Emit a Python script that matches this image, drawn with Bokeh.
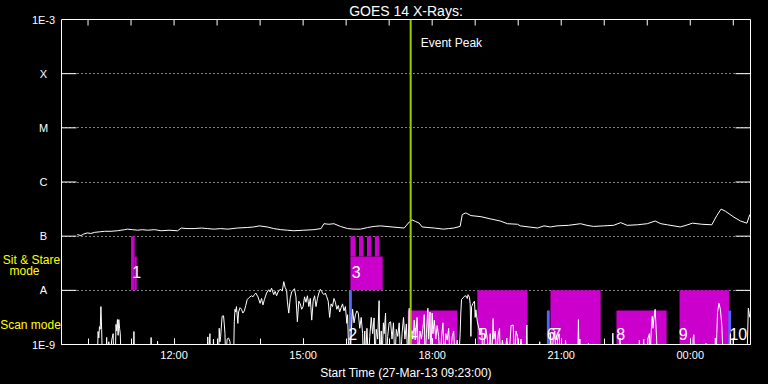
from bokeh.plotting import figure
from bokeh.models import Range1d, FixedTicker, Span, Label
from bokeh.layouts import row
from bokeh.core.properties import value
from bokeh.embed import file_html
from bokeh.resources import INLINE

START = "09:23"
FONT = "Liberation Sans"

def to_min(s):
    h, m = map(int, s.split(":"))
    sh, sm = map(int, START.split(":"))
    t = h * 60 + m - (sh * 60 + sm)
    if t < 0:
        t += 24 * 60
    return t

# ---- axis data ----
hour_ticks = ["10:00", "11:00", "12:00", "13:00", "14:00", "15:00", "16:00", "17:00",
              "18:00", "19:00", "20:00", "21:00", "22:00", "23:00", "00:00", "01:00"]
labeled_ticks = ["12:00", "15:00", "18:00", "21:00", "00:00"]
level_exp = [-9, -8, -7, -6, -5, -4, -3]
level_labels = ["1E-9", "A", "B", "C", "M", "X", "1E-3"]
grid_exp = [-8, -7, -6, -5, -4]

# mode captions (text, log10 flux position)
mode_text = ["Sit & Stare", "mode", "Scan mode"]
mode_exp = [-7.431, -7.652, -8.631]

# ---- GOES long channel : (minutes after start, log10 flux) ----
upper_pairs = [
    (22, -6.97), (27, -6.99), (31, -6.96), (36, -6.94), (41, -6.95), (46, -6.93), (53, -6.92),
    (60, -6.91), (69, -6.91), (78, -6.90), (88, -6.88), (92, -6.87), (99, -6.88), (106, -6.89),
    (113, -6.88), (120, -6.89), (130, -6.88), (139, -6.90), (150, -6.89), (162, -6.90),
    (167, -6.85), (175, -6.86), (185, -6.86), (195, -6.85), (204, -6.86), (213, -6.87),
    (222, -6.86), (232, -6.87), (245, -6.85), (259, -6.84), (268, -6.83), (276, -6.81),
    (287, -6.83), (296, -6.86), (306, -6.88), (315, -6.89), (324, -6.90), (338, -6.89),
    (352, -6.88), (362, -6.86), (366, -6.77), (373, -6.78), (380, -6.77), (389, -6.82),
    (399, -6.86), (408, -6.87), (417, -6.87), (427, -6.84), (436, -6.82), (445, -6.81),
    (461, -6.83), (478, -6.85), (485, -6.74), (489, -6.70), (494, -6.73), (499, -6.76),
    (503, -6.83), (511, -6.84), (520, -6.85), (533, -6.87), (540, -6.86), (547, -6.85),
    (556, -6.82), (559, -6.60), (564, -6.57), (571, -6.62), (578, -6.63), (585, -6.64),
    (598, -6.68), (612, -6.72), (622, -6.77), (636, -6.78), (640, -6.81), (652, -6.83),
    (664, -6.85), (673, -6.81), (682, -6.83), (691, -6.81), (707, -6.80), (724, -6.77),
    (733, -6.80), (742, -6.82), (756, -6.81), (770, -6.80), (780, -6.75), (789, -6.80),
    (803, -6.79), (817, -6.77), (828, -6.72), (836, -6.77), (845, -6.79), (863, -6.83),
    (871, -6.80), (880, -6.76), (893, -6.78), (907, -6.79), (914, -6.62), (920, -6.50),
    (926, -6.54), (938, -6.65), (947, -6.72), (956, -6.76), (960, -6.60),
]

# ---- GOES short channel (log10 flux); -9.3 = below the axis floor ----
lower_pairs = [
    (0, -9.3),
    (50, -9.3), (51, -8.76), (52, -8.88), (53, -8.67), (54, -8.72), (55, -8.30), (56, -8.72), (57, -9.3),
    (62, -9.3), (63, -8.87), (64, -9.3),
    (66, -8.95), (68, -9.3), (70, -8.92), (72, -8.80), (73, -9.3),
    (75, -9.3), (76, -8.63), (77, -8.75), (78, -8.54), (79, -8.83), (80, -8.54), (81, -8.70), (82, -8.80), (83, -9.3),
    (100, -9.3), (101, -8.76), (102, -9.3),
    (124, -9.3), (125, -8.87), (126, -9.3),
    (133, -9.3), (134, -8.94), (135, -9.3),
    (203, -9.3), (204, -8.86), (205, -9.3), (207, -8.80), (208, -9.3),
    (211, -9.3), (212, -8.90), (213, -9.3),
    (219, -9.3), (220, -8.70), (221, -8.95), (222, -8.85), (224, -8.48), (226, -8.47), (227, -8.62),
    (228, -8.80), (229, -9.3), (231, -8.90), (233, -8.88), (235, -8.95), (237, -9.3),
    (240, -9.3), (241, -8.58), (242, -8.35), (243, -8.40), (244, -8.30), (245, -8.45), (246, -8.61),
    (247, -8.40), (249, -8.32), (251, -8.35), (253, -8.42), (255, -8.38), (257, -8.28), (259, -8.17),
    (262, -8.13), (265, -8.10), (267, -8.12), (269, -8.08), (271, -8.05), (274, -8.12), (277, -8.24),
    (279, -8.15), (281, -8.27), (283, -8.17), (286, -8.05), (289, -7.99), (291, -8.03), (293, -7.96),
    (296, -8.08), (298, -8.02), (300, -8.10), (302, -8.03), (305, -7.98), (308, -8.01), (310, -7.84),
    (312, -7.95), (314, -8.00), (315, -8.20), (317, -8.42), (319, -8.15), (321, -8.03), (323, -8.00),
    (325, -7.97), (327, -8.12), (329, -8.58), (331, -8.20), (333, -8.25), (335, -8.35), (337, -8.30),
    (339, -8.12), (341, -8.22), (343, -8.10), (345, -8.30), (347, -8.15), (349, -8.55), (351, -8.20),
    (353, -8.10), (355, -8.30), (357, -8.15), (359, -8.05), (361, -7.98), (363, -8.02), (364, -8.05),
    (366, -8.08), (368, -8.05), (370, -8.12), (372, -8.20), (374, -8.50), (376, -8.25), (378, -8.30),
    (380, -8.15), (382, -8.22), (384, -8.35), (386, -8.28), (388, -8.40), (390, -8.32), (392, -8.25),
    (394, -8.38), (396, -8.30), (398, -8.61), (399, -8.45), (401, -9.3),
    (404, -8.80), (406, -8.35), (408, -8.60), (410, -8.45), (412, -8.38), (414, -8.42), (416, -8.70),
    (418, -8.50), (420, -8.80), (421, -9.3), (423, -8.75), (424, -9.3), (426, -8.70), (428, -9.3),
    (430, -8.85), (432, -8.50), (434, -8.80), (436, -8.51), (437, -9.3), (439, -8.72), (441, -8.90),
    (443, -8.19), (444, -9.3), (446, -8.75), (447, -9.3), (449, -8.60), (450, -8.80), (452, -8.42),
    (453, -9.3), (455, -8.85), (457, -8.60), (459, -8.58), (461, -8.90), (463, -8.60), (465, -9.3),
    (467, -8.72), (469, -8.85), (471, -8.60), (473, -9.3), (475, -8.80), (477, -8.50), (479, -8.90),
    (481, -8.62), (483, -9.3), (485, -8.33), (486, -9.3), (488, -8.75), (490, -8.90), (492, -8.55),
    (494, -8.85), (496, -8.50), (498, -9.3), (500, -8.75), (502, -8.90), (504, -8.70), (506, -8.45),
    (507, -9.3), (509, -8.80), (511, -8.33), (512, -8.90), (514, -8.40), (515, -9.3), (517, -8.42),
    (518, -8.80), (520, -8.55), (522, -8.90), (524, -8.65), (526, -8.85), (528, -9.3), (530, -8.88),
    (532, -8.60), (534, -9.3), (536, -8.80), (538, -8.92), (540, -8.70), (542, -9.3), (545, -8.85),
    (547, -8.75), (549, -9.3), (552, -8.92), (554, -9.3),
    (556, -8.80), (557, -8.40), (558, -8.17), (560, -8.14), (562, -8.11), (564, -8.10), (566, -8.15),
    (567, -8.08), (568, -8.10), (569, -8.13), (570, -8.25), (571, -8.85), (572, -8.30), (574, -8.24),
    (576, -8.20), (577, -8.50), (578, -8.36), (580, -8.58), (582, -8.70), (584, -8.80), (586, -8.70),
    (588, -9.3), (590, -8.85), (592, -8.72), (594, -8.90), (596, -9.3), (598, -8.80), (600, -9.3),
    (602, -8.52), (603, -8.90), (605, -8.75), (607, -9.3), (609, -8.82), (611, -8.70), (612, -9.3),
    (615, -8.92), (618, -9.3), (621, -8.88), (624, -9.3), (627, -8.65), (630, -8.64), (632, -9.3),
    (634, -8.75), (636, -8.85), (638, -9.3), (641, -8.90), (643, -9.3), (648, -9.3), (649, -8.64),
    (650, -9.3),
    (666, -9.3), (667, -8.95), (668, -9.3),
    (681, -9.3), (682, -8.80), (684, -9.3), (686, -8.85), (688, -8.75), (690, -9.3), (692, -8.90),
    (694, -8.80), (696, -9.3), (702, -9.3), (703, -8.92), (705, -9.3),
    (720, -9.3), (721, -8.54), (722, -9.3), (723, -8.90), (724, -9.3), (734, -9.3), (735, -8.98), (736, -9.3),
    (768, -9.3), (769, -8.79), (770, -9.3), (778, -9.3), (779, -8.88), (780, -9.3), (805, -9.3),
    (806, -8.92), (807, -9.3), (811, -9.3), (812, -8.90), (813, -9.3), (817, -9.3), (818, -8.88),
    (820, -8.80), (821, -9.3), (822, -8.90), (823, -8.66), (824, -8.48), (825, -8.70), (826, -8.55),
    (828, -8.35), (829, -8.62), (830, -8.88), (831, -9.3),
    (845, -9.3), (846, -9.00), (848, -9.3), (880, -9.3), (881, -8.88), (882, -8.82), (883, -9.3),
    (898, -9.3), (899, -8.98), (900, -9.3), (911, -9.3), (912, -8.88), (913, -9.3), (914, -8.80),
    (915, -8.41), (917, -8.24), (919, -8.35), (921, -8.65), (923, -9.3), (932, -9.3), (933, -8.80),
    (934, -9.3), (936, -9.3), (937, -8.88), (938, -9.3), (956, -9.3), (958, -8.33), (960, -8.50),
]

# ---- observation blocks (Sit & Stare between A and B, Scan below A) ----
box_start = ["11:00", "11:05", "16:06", "16:06", "16:18", "16:29", "16:40", "16:04",
             "17:26", "19:03", "20:40", "20:45", "22:17", "23:45", "00:53"]
box_end = ["11:05", "11:08", "16:51", "16:13", "16:24", "16:35", "16:46", "16:08",
           "18:35", "20:13", "20:44", "21:55", "23:27", "00:54", "00:57"]
box_low = [-8, -8, -8, -7.375, -7.375, -7.375, -7.375, -9,
           -9, -9, -9, -9, -9, -9, -9]
box_high = [-7, -7.375, -7.375, -7, -7, -7, -7, -8,
            -8.372, -8, -8.372, -8, -8.372, -8, -8.372]
box_kind = ["m", "m", "m", "m", "m", "m", "m", "b",
            "m", "m", "b", "m", "m", "m", "b"]

num_text = ["1", "3", "2", "4", "5", "6", "7", "8", "9", "10"]
num_time = ["11:08", "16:14", "16:09", "17:34", "19:10", "20:46", "20:54", "22:23", "23:50", "01:07"]
num_exp = [-7.66, -7.66, -8.81, -8.81, -8.81, -8.81, -8.81, -8.81, -8.81, -8.81]

event_peak = "17:30"
end_minutes = 961

MAGENTA = "#cc00cc"
BLUE = "#5566ff"
GREEN = "#99cc00"
YELLOW = "#ffff00"

# layout (pixels)
TOP, BOTTOM, H = 19, 40, 384
FRAME_H = H - TOP - BOTTOM
PX_PER_DEC = FRAME_H / (level_exp[-1] - level_exp[0])

y_range = Range1d(10.0 ** level_exp[0], 10.0 ** level_exp[-1])

# ---------- left strip with the level labels and mode captions ----------
# its frame covers the whole strip, so its range is the main range widened by the borders
side_range = Range1d(10.0 ** (level_exp[0] - BOTTOM / PX_PER_DEC),
                     10.0 ** (level_exp[-1] + TOP / PX_PER_DEC))
side = figure(width=61, height=H, x_range=Range1d(0, 61), y_range=side_range,
              y_axis_type="log", x_axis_location=None, y_axis_location=None,
              output_backend="svg", toolbar_location=None,
              background_fill_color="black", border_fill_color="black",
              outline_line_color=None, frame_align=False,
              min_border_left=0, min_border_right=0, min_border_top=0, min_border_bottom=0)
side.grid.visible = False
side.text(x=[43] * len(level_labels), y=[10.0 ** e for e in level_exp], text=level_labels,
          text_color="white", text_font=value(FONT), text_font_size="11px",
          text_align="center", text_baseline="middle")
side.text(x=[31, 24, 30], y=[10.0 ** e for e in mode_exp], text=mode_text,
          text_color=YELLOW, text_font=value(FONT), text_font_size="12px",
          text_align="center", text_baseline="middle")

# ---------- main plot ----------
p = figure(width=707, height=H, x_range=Range1d(0, end_minutes),
           y_range=y_range, y_axis_type="log",
           output_backend="svg", toolbar_location=None,
           background_fill_color="black", border_fill_color="black",
           outline_line_color="white", frame_align=False,
           min_border_left=0, min_border_right=18, min_border_top=TOP, min_border_bottom=BOTTOM)

p.title.text = "GOES 14 X-Rays:"
p.title.align = "center"
p.title.text_color = "white"
p.title.text_font = FONT
p.title.text_font_size = "14px"
p.title.text_font_style = "normal"
p.title.standoff = 1

hour_pos = [to_min(t) for t in hour_ticks]
lab_pos = [to_min(t) for t in labeled_ticks]
decades = [10.0 ** e for e in level_exp]

xa = p.xaxis[0]
xa.ticker = FixedTicker(ticks=lab_pos, minor_ticks=hour_pos)
xa.major_label_overrides = {pos: lab for pos, lab in zip(lab_pos, labeled_ticks)}
xa.axis_line_color = "white"
xa.major_tick_line_color = "white"
xa.minor_tick_line_color = "white"
xa.major_tick_in = 6
xa.major_tick_out = 0
xa.minor_tick_in = 6
xa.minor_tick_out = 0
xa.major_label_text_color = "white"
xa.major_label_text_font = FONT
xa.major_label_text_font_size = "11px"
xa.major_label_standoff = 4
xa.axis_label = "Start Time (27-Mar-13 09:23:00)"
xa.axis_label_text_color = "white"
xa.axis_label_text_font = FONT
xa.axis_label_text_font_size = "12px"
xa.axis_label_text_font_style = "normal"
xa.axis_label_standoff = 2

p.yaxis.visible = False

p.xgrid.visible = False
p.ygrid.ticker = FixedTicker(ticks=[10.0 ** e for e in grid_exp], minor_ticks=[])
p.ygrid.grid_line_color = "white"
p.ygrid.grid_line_dash = "1 3"
p.ygrid.grid_line_width = 1

# inward tick marks on the left/right (decades) and top (hours)
ytick_len = 15 * end_minutes / 689.0   # 15 px expressed in x units
xtick_len = 6 / PX_PER_DEC              # 6 px expressed in decades
p.segment(x0=[0] * len(decades), x1=[ytick_len] * len(decades), y0=decades, y1=decades,
          line_color="white", line_width=1)
p.segment(x0=[end_minutes - ytick_len] * len(decades), x1=[end_minutes] * len(decades),
          y0=decades, y1=decades, line_color="white", line_width=1)
p.segment(x0=hour_pos, x1=hour_pos, y0=[1e-3] * len(hour_pos),
          y1=[10.0 ** (-3 - xtick_len)] * len(hour_pos), line_color="white", line_width=1)

# blocks
p.quad(left=[to_min(s) for s in box_start], right=[to_min(e) for e in box_end],
       bottom=[10.0 ** v for v in box_low], top=[10.0 ** v for v in box_high],
       fill_color=[MAGENTA if k == "m" else BLUE for k in box_kind], line_color=None)

# curves
up_x, up_v = zip(*upper_pairs)
lo_x, lo_v = zip(*lower_pairs)
p.line(list(up_x), [10.0 ** v for v in up_v], line_color="white", line_width=1)
p.line(list(lo_x), [10.0 ** v for v in lo_v], line_color="white", line_width=1)

p.add_layout(Span(location=to_min(event_peak), dimension="height",
                  line_color=GREEN, line_width=2))

# block numbers
p.text(x=[to_min(t) for t in num_time], y=[10.0 ** e for e in num_exp], text=num_text,
       text_color="white", text_font=value(FONT), text_font_size="16px",
       text_align="center", text_baseline="middle")

p.add_layout(Label(x=to_min(event_peak) + 14, y=10.0 ** -3.443, text="Event Peak",
                   text_color="white", text_font=FONT, text_font_size="12px",
                   text_align="left", text_baseline="middle"))

layout = row(side, p, spacing=0, styles={"background-color": "black"})
open("out.html", "w").write(file_html(layout, INLINE))
